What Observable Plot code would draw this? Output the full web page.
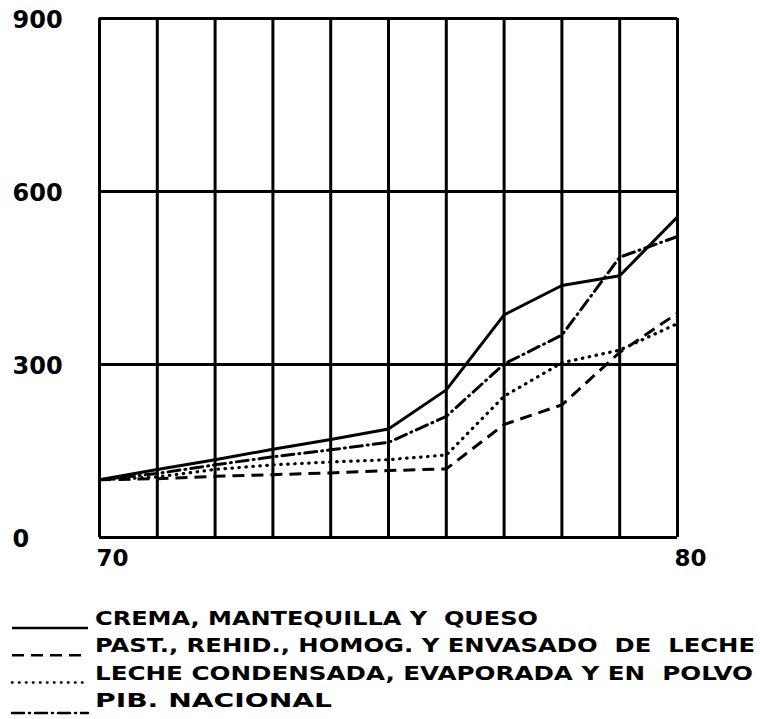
<!DOCTYPE html>
<html>
<head>
<meta charset="utf-8">
<script src="https://cdn.jsdelivr.net/npm/d3@7"></script>
<script src="https://cdn.jsdelivr.net/npm/@observablehq/plot@0.6"></script>
<style>
  html, body { margin: 0; padding: 0; background: #fff; }
  #chart svg { display: block; }
  #legend { display: block; }
</style>
</head>
<body>
<div id="chart"></div>
<svg id="legend" width="760" height="139"></svg>
<script>
const years = [70, 71, 72, 73, 74, 75, 76, 77, 78, 79, 80];
const crema   = [100, 118, 135, 153, 170, 188, 256, 386, 437, 454, 556];
const past    = [100, 102, 106, 109, 112, 116, 119, 196, 230, 321, 389];
const leche   = [100, 105, 118, 126, 131, 135, 143, 245, 303, 325, 371];
const pib     = [100, 111, 126, 140, 152, 165, 210, 301, 351, 486, 522];
const yTicks = [0, 300, 600, 900];
const xLabels = [70, 80];
const seriesNames = [
  "CREMA, MANTEQUILLA Y  QUESO",
  "PAST., REHID., HOMOG. Y ENVASADO  DE  LECHE",
  "LECHE CONDENSADA, EVAPORADA Y EN  POLVO",
  "PIB. NACIONAL"
];
const seriesValues = [crema, past, leche, pib];
const dashes = ["none", "12,7", "0.5,6.5", "12,5,1,5"];
const caps = ["butt", "butt", "round", "round"];
const legendWidths = [443, 660, 658, 237];

const rows = seriesValues.flatMap((vals, i) =>
  years.map((yr, j) => ({year: yr, value: vals[j], series: seriesNames[i], idx: i})));

const font = "DejaVu Sans";

const chart = Plot.plot({
  width: 760,
  height: 580,
  marginLeft: 99,
  marginRight: 83,
  marginTop: 18,
  marginBottom: 43,
  x: {domain: [70, 80], axis: null},
  y: {domain: [0, 900], axis: null},
  style: {background: "#fff"},
  marks: [
    Plot.ruleX(years, {x: d => d, stroke: "black", strokeWidth: 3}),
    Plot.ruleY(yTicks, {y: d => d, stroke: "black", strokeWidth: 3}),
    ...seriesValues.map((vals, i) =>
      Plot.line(rows.filter(r => r.idx === i), {
        x: "year", y: "value", stroke: "black",
        strokeWidth: i === 2 ? 3.2 : 3,
        strokeDasharray: dashes[i] === "none" ? null : dashes[i],
        strokeLinecap: caps[i],
        strokeLinejoin: "round"
      })),
    Plot.text(yTicks, {
      y: d => d, text: d => String(d), frameAnchor: "left", textAnchor: "start",
      dx: -87, dy: 2, fontFamily: font, fontWeight: "bold", fontSize: 24, fill: "black"
    }),
    Plot.text(xLabels, {
      x: d => d, text: d => String(d), frameAnchor: "bottom", textAnchor: "start",
      lineAnchor: "top", dx: -3, dy: 12, fontFamily: font, fontWeight: "bold", fontSize: 23, fill: "black"
    })
  ]
});
document.getElementById("chart").appendChild(chart);

// Legend below the chart
const leg = d3.select("#legend");
const baseY = 45, step = 27.3;
seriesNames.forEach((name, i) => {
  const y = baseY + i * step;
  leg.append("line")
    .attr("x1", 12).attr("x2", 88)
    .attr("y1", y + (i === 3 ? 6 : 3)).attr("y2", y + (i === 3 ? 6 : 3))
    .attr("stroke", "black")
    .attr("stroke-width", 2.5)
    .attr("stroke-linecap", caps[i])
    .attr("stroke-dasharray", dashes[i] === "none" ? null : dashes[i]);
  leg.append("text")
    .attr("x", 95).attr("y", y)
    .attr("font-family", font)
    .attr("font-weight", "bold")
    .attr("font-size", 20)
    .attr("textLength", legendWidths[i])
    .attr("lengthAdjust", "spacingAndGlyphs")
    .attr("fill", "black")
    .style("white-space", "pre")
    .text(name);
});
</script>
</body>
</html>
